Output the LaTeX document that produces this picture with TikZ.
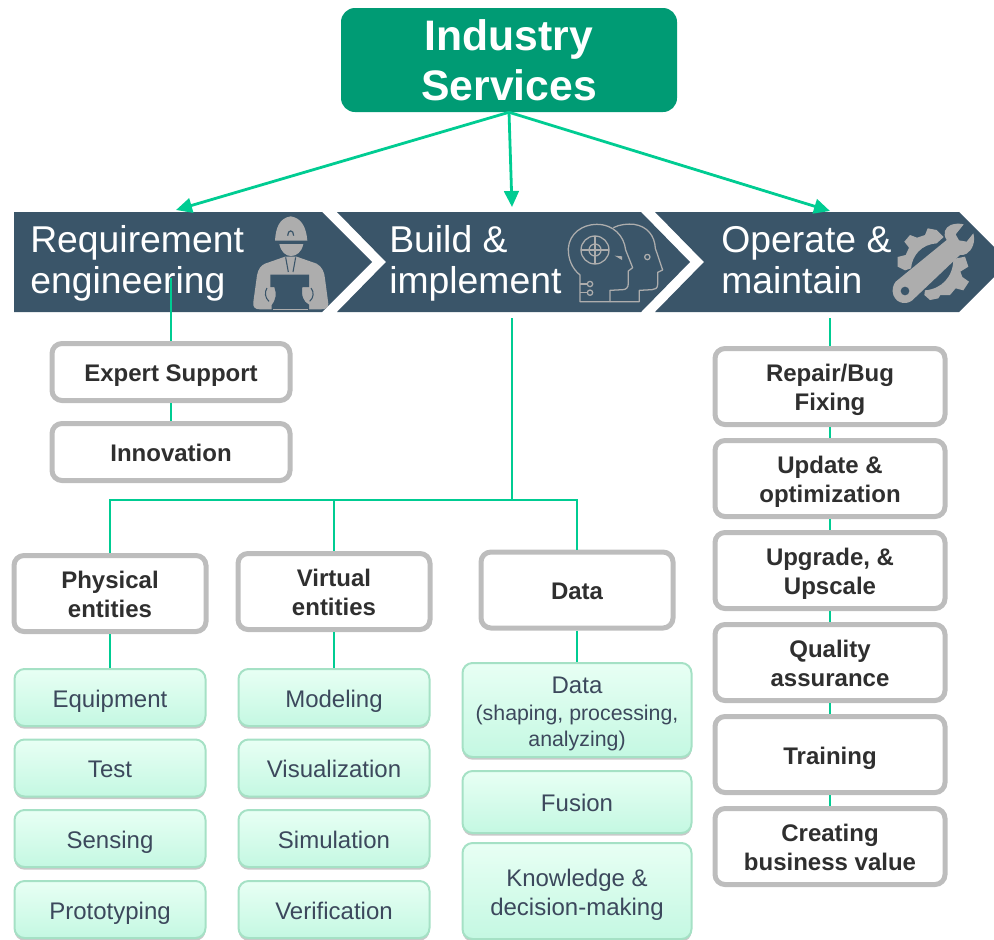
\documentclass[tikz,border=0pt]{standalone}
\usepackage{fontspec}
\setmainfont{Liberation Sans}
\usetikzlibrary{arrows.meta,shadows}
\definecolor{bossgreen}{RGB}{0,155,116}
\definecolor{linkgreen}{RGB}{0,204,146}
\definecolor{chevblue}{RGB}{58,85,105}
\definecolor{icongrey}{RGB}{173,173,173}
\definecolor{boxgrey}{RGB}{189,189,189}
\definecolor{boldtext}{RGB}{47,47,47}
\definecolor{lighttext}{RGB}{60,72,92}
\definecolor{lightedge}{RGB}{165,225,197}
\definecolor{lighttop}{RGB}{232,255,244}
\definecolor{lightbottom}{RGB}{196,248,226}
\newcommand{\boxtop}{\rule{0pt}{21.2pt}}
\newcommand{\boxbot}{\rule[-6.5pt]{0pt}{6.5pt}}
\newcommand{\chevtop}{\rule{0pt}{22pt}}
\newcommand{\chevbot}{\rule[-7pt]{0pt}{7pt}}
\tikzset{
  bossbox/.style={fill=bossgreen,draw=none,rounded corners=10.5pt,minimum width=252pt,minimum height=78pt,inner sep=0pt,
    text=white,align=center,font=\fontsize{32}{37.5}\selectfont\bfseries},
  chevtext/.style={anchor=west,inner sep=0pt,text=white,align=left,font=\fontsize{28}{30.5}\selectfont},
  greybox/.style={draw=boxgrey,fill=white,line width=3.75pt,rounded corners=7.5pt,inner sep=0pt,align=center,text=boldtext,
    font=\fontsize{18}{21.75}\selectfont\bfseries,execute at begin node=\boxtop,execute at end node=\boxbot},
  leftgrey/.style={greybox,minimum width=178.5pt,minimum height=42.75pt},
  midgrey/.style={greybox,minimum width=144pt,minimum height=57pt},
  rightgrey/.style={greybox,minimum width=172.5pt,minimum height=57pt},
  lightbase/.style={draw=lightedge,line width=1.5pt,rounded corners=7.5pt,top color=lighttop,bottom color=lightbottom,
    inner sep=0pt,align=center,text=lighttext,
    drop shadow={shadow xshift=0pt,shadow yshift=-2pt,opacity=.3,fill=black!70},
    font=\fontsize{18}{21.75}\selectfont,execute at begin node=\boxtop,execute at end node=\boxbot},
  lightbox/.style={lightbase,minimum width=143.25pt,minimum height=42.75pt},
  lightwide/.style={lightbase,minimum width=171.75pt},
  link/.style={draw=linkgreen,line width=1.5pt},
  arrowlink/.style={draw=linkgreen,line width=2.1pt,-{Triangle[length=12pt,width=11pt]},shorten >=0pt},
  iconfill/.style={fill=icongrey,draw=none},
  iconline/.style={draw=icongrey,line width=.95pt,line join=round},
  chevfill/.style={fill=chevblue,draw=none}
}
\begin{document}
\begin{tikzpicture}[x=0.75pt,y=-0.75pt]
\clip (0,0) rectangle (994,939);
% chevrons
\fill[chevfill] (14,212) -- (322,212) -- (372,262) -- (322,312) -- (14,312) -- cycle;
\fill[chevfill] (337,212) -- (641,212) -- (690,262) -- (641,312) -- (337,312) -- (386,262) -- cycle;
\fill[chevfill] (655,212) -- (959,212) -- (1009,262) -- (959,312) -- (655,312) -- (704,262) -- cycle;
% worker icon
\begin{scope}[shift={(245,212)},scale=1/3]
  \fill[iconfill] (90,86) .. controls (92,50) and (102,18) .. (137,13) .. controls (172,18) and (184,50) .. (187,86) -- cycle;
  \fill[iconfill] (103,96) -- (175,96) .. controls (170,120) and (155,132) .. (138,132) .. controls (122,132) and (108,120) .. (103,96) -- cycle;
  \draw[chevblue,line width=.9pt] (128,71) .. controls (128,52) and (146,52) .. (146,71);
  \fill[iconfill] (120,134) -- (155,134) -- (215,155) .. controls (232,165) and (238,180) .. (240,200) -- (250,275) .. controls (250,290) and (240,292) .. (225,292) -- (45,292) .. controls (30,292) and (22,285) .. (25,270) -- (36,190) .. controls (40,170) and (48,160) .. (60,155) -- cycle;
  \fill[chevblue] (76,188) -- (192,188) -- (192,225) -- (172,225) .. controls (168,250) and (175,270) .. (192,278) -- (192,298) -- (80,298) -- (80,280) .. controls (92,265) and (96,245) .. (88,225) -- (76,225) -- cycle;
  \draw[icongrey,line width=1pt] (84,292) -- (190,292);
  \draw[chevblue,line width=.8pt] (122,136) -- (130,180) (152,136) -- (144,180);
  \draw[chevblue,line width=.8pt] (66,228) .. controls (58,240) and (60,258) .. (72,268);
  \draw[chevblue,line width=.8pt] (198,228) .. controls (208,240) and (206,258) .. (194,268);
\end{scope}
% heads icon
\begin{scope}[shift={(560,215)},scale=1/3]
  \draw[iconline] (60,260) -- (60,180) .. controls (35,160) and (24,130) .. (25,100) .. controls (28,55) and (68,28) .. (110,28) .. controls (160,28) and (192,62) .. (197,105) -- (218,158) -- (205,168) -- (205,205) .. controls (205,218) and (198,224) .. (188,224) -- (150,226) -- (150,260) -- cycle;
  \draw[iconline] (160,38) .. controls (178,28) and (205,26) .. (222,28) .. controls (262,34) and (284,62) .. (286,100) -- (308,165) -- (293,172) -- (293,208) .. controls (293,220) and (285,224) .. (276,224) -- (238,226) -- (238,260) -- (150,260);
  \draw[iconline] (105,105) circle (42);
  \draw[iconline] (105,105) circle (18);
  \draw[iconline] (105,62) -- (105,148) (62,105) -- (148,105);
  \fill[iconfill] (164,122) -- (186,124) -- (186,135) -- cycle;
  \draw[iconline] (262,126) circle (8);
  \draw[iconline] (90,207) circle (8) (90,233) circle (8);
  \draw[iconline] (60,207) -- (82,207) (60,233) -- (82,233);
\end{scope}
% wrench icon
\begin{scope}[shift={(885,215)},scale=1/3]
  \fill[iconfill] (32,200) -- (185,75) .. controls (172,55) and (180,38) .. (197,30) .. controls (210,25) and (225,25) .. (236,28) -- (212,58) -- (222,76) -- (245,80) -- (265,55) .. controls (272,80) and (262,105) .. (245,116) .. controls (238,120) and (232,120) .. (225,120) -- (88,250) .. controls (70,272) and (35,268) .. (25,240) .. controls (20,225) and (24,210) .. (32,200) -- cycle;
  \fill[chevblue] (60,228) circle (13);
  \fill[iconfill] (78,160) .. controls (82,120) and (110,88) .. (155,85) -- (176,66) -- (155,45) -- (128,40) -- (120,60) -- (96,68) -- (75,60) -- (58,80) -- (72,98) -- (62,120) -- (38,126) -- (38,155) -- (60,166) -- cycle;
  \fill[iconfill] (120,226) .. controls (170,222) and (205,185) .. (205,132) -- (240,125) -- (250,155) -- (226,170) -- (232,186) -- (252,200) -- (235,226) -- (212,220) -- (195,240) -- (166,240) -- (160,250) -- (135,255) -- (118,240) -- cycle;
\end{scope}
% titles
\node[bossbox] (boss) at (509,60) {Industry\\Services};
\node[chevtext] (req) at (30,263) {\chevtop Requirement\\engineering\chevbot};
\node[chevtext] (bld) at (389,263) {\chevtop Build \&\\implement\chevbot};
\node[chevtext] (opr) at (721,263) {\chevtop Operate \&\\maintain\chevbot};
% free connector ends
\coordinate (reqtop) at (176,210);
\coordinate (bldtop) at (512,207);
\coordinate (oprtop) at (830,211);
\coordinate (reqin) at (171,278);
\coordinate (bldout) at (512,318);
\coordinate (oprout) at (830,318);
\coordinate (junction) at (512,499.5);
% grey boxes
\node[leftgrey] (expert) at (171,372) {Expert Support};
\node[leftgrey] (innov) at (171,452) {Innovation};
\node[midgrey] (phys) at (110,593.5) {\boxtop Physical\\entities\boxbot};
\node[midgrey] (virt) at (334,591.5) {\boxtop Virtual\\entities\boxbot};
\node[midgrey] (datab) at (577,590) {Data};
\node[rightgrey] (repair) at (830,386.5) {\boxtop Repair/Bug\\Fixing\boxbot};
\node[rightgrey] (update) at (830,478.5) {\boxtop Update \&\\optimization\boxbot};
\node[rightgrey] (upgrade) at (830,570.5) {\boxtop Upgrade, \&\\Upscale\boxbot};
\node[rightgrey] (quality) at (830,662.5) {\boxtop Quality\\assurance\boxbot};
\node[rightgrey] (training) at (830,754.5) {Training};
\node[rightgrey] (creating) at (830,846.5) {\boxtop Creating\\business value\boxbot};
% light boxes
\node[lightbox] (equip) at (110,697.5) {Equipment};
\node[lightbox] (test) at (110,768) {Test};
\node[lightbox] (sens) at (110,838.5) {Sensing};
\node[lightbox] (proto) at (110,909.5) {Prototyping};
\node[lightbox] (model) at (334,697.5) {Modeling};
\node[lightbox] (visu) at (334,768) {Visualization};
\node[lightbox] (simu) at (334,838.5) {Simulation};
\node[lightbox] (veri) at (334,909.5) {Verification};
\node[lightwide,minimum height=70.5pt] (dshape) at (577,710) {\boxtop Data\\[-1.5pt]{\fontsize{16}{18.75}\selectfont (shaping, processing,}\\[-2.5pt]{\fontsize{16}{18.75}\selectfont analyzing)}\boxbot};
\node[lightwide,minimum height=46.5pt] (fusion) at (577,802) {Fusion};
\node[lightwide,minimum height=72pt] (know) at (577,891) {\boxtop Knowledge \&\\decision-making\boxbot};
% connectors
\draw[arrowlink] (boss.south) -- (reqtop);
\draw[arrowlink] (boss.south) -- (bldtop);
\draw[arrowlink] (boss.south) -- (oprtop);
\draw[link] (reqin) -- (expert.north);
\draw[link] (expert) -- (innov);
\draw[link] (bldout) -- (junction);
\draw[link] (junction) -| (phys.north);
\draw[link] (junction) -| (virt.north);
\draw[link] (junction) -| (datab.north);
\draw[link] (phys) -- (equip);
\draw[link] (virt) -- (model);
\draw[link] (datab) -- (dshape);
\draw[link] (oprout) -- (repair.north);
\draw[link] (repair) -- (update);
\draw[link] (update) -- (upgrade);
\draw[link] (upgrade) -- (quality);
\draw[link] (quality) -- (training);
\draw[link] (training) -- (creating);
\end{tikzpicture}
\end{document}
